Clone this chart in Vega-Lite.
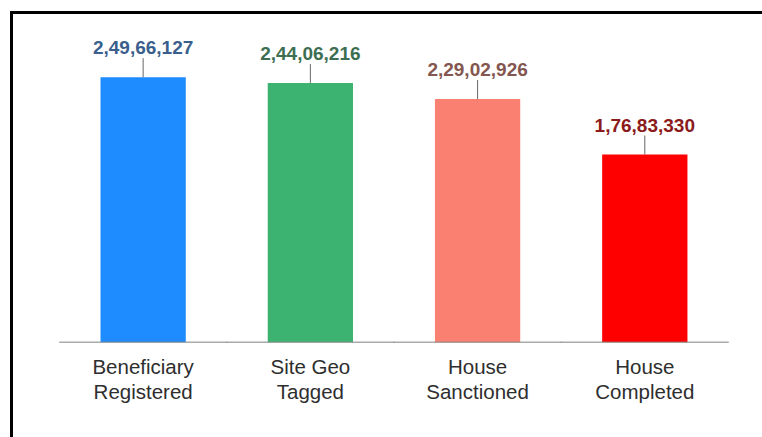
{
  "$schema": "https://vega.github.io/schema/vega-lite/v6.json",
  "autosize": {"type": "none"},
  "padding": {"left": 11.5, "top": 12.5, "right": -5, "bottom": -5},
  "width": 755.5,
  "height": 429.5,
  "background": "#ffffff",
  "config": {
    "view": {"stroke": "#000000", "strokeWidth": 3},
    "font": "Liberation Sans"
  },
  "data": {
    "values": [
      {"cat": "Beneficiary|Registered", "value": 24966127, "display": "2,49,66,127"},
      {"cat": "Site Geo|Tagged", "value": 24406216, "display": "2,44,06,216"},
      {"cat": "House|Sanctioned", "value": 22902926, "display": "2,29,02,926"},
      {"cat": "House|Completed", "value": 17683330, "display": "1,76,83,330"}
    ]
  },
  "encoding": {
    "x": {
      "field": "cat",
      "type": "nominal",
      "sort": null,
      "scale": {"paddingInner": 0.49, "paddingOuter": 0.504, "align": 0.528},
      "axis": {
        "title": null,
        "orient": "bottom",
        "offset": -99.7,
        "domain": false,
        "ticks": false,
        "grid": false,
        "labelAngle": 0,
        "labelExpr": "split(datum.label, '|')",
        "labelFont": "Liberation Sans",
        "labelFontSize": 20.5,
        "labelColor": "#2e2e2e",
        "labelLineHeight": 25,
        "labelPadding": 15
      }
    }
  },
  "layer": [
    {
      "mark": {"type": "bar"},
      "encoding": {
        "y": {
          "field": "value",
          "type": "quantitative",
          "scale": {"domain": [-9388000, 31055000], "nice": false, "zero": false},
          "axis": null
        },
        "color": {
          "field": "cat",
          "type": "nominal",
          "sort": null,
          "scale": {
            "domain": ["Beneficiary|Registered", "Site Geo|Tagged", "House|Sanctioned", "House|Completed"],
            "range": ["#1e8bff", "#3cb371", "#fa8072", "#ff0000"]
          },
          "legend": null
        }
      }
    },
    {
      "mark": {"type": "tick", "orient": "horizontal", "size": 168, "thickness": 1.5, "color": "#888888"},
      "encoding": {
        "y": {"datum": 0, "type": "quantitative"}
      }
    },
    {
      "mark": {"type": "rule", "color": "#666666", "strokeWidth": 1, "y2Offset": -19},
      "encoding": {
        "y": {"field": "value", "type": "quantitative"},
        "y2": {"field": "value"}
      }
    },
    {
      "mark": {"type": "text", "fontWeight": "bold", "fontSize": 19, "font": "Liberation Sans", "baseline": "alphabetic", "dy": -23},
      "encoding": {
        "y": {"field": "value", "type": "quantitative"},
        "text": {"field": "display"},
        "color": {
          "field": "cat",
          "type": "nominal",
          "sort": null,
          "scale": {
            "domain": ["Beneficiary|Registered", "Site Geo|Tagged", "House|Sanctioned", "House|Completed"],
            "range": ["#3b5f8c", "#3d6e52", "#845650", "#8b1a1a"]
          },
          "legend": null
        }
      }
    }
  ],
  "resolve": {"scale": {"color": "independent"}}
}
